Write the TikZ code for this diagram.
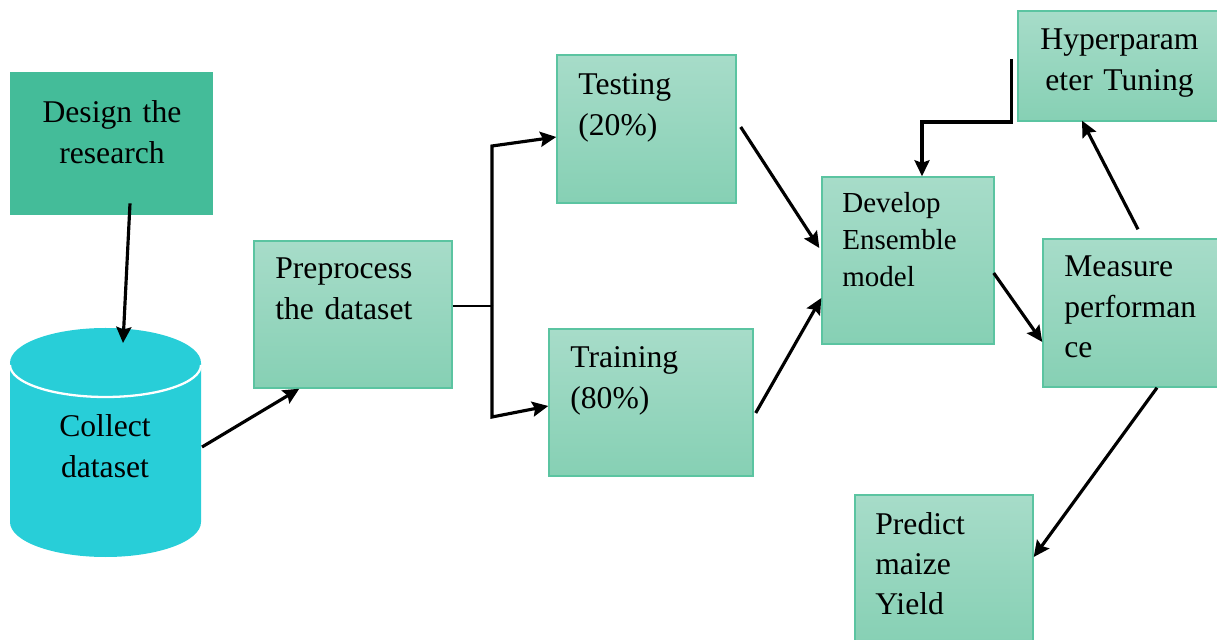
\documentclass[tikz,border=0pt]{standalone}
\usepackage{fontspec}
\setmainfont{Liberation Serif}
\usetikzlibrary{arrows.meta,calc}
\definecolor{boxtop}{HTML}{A7DCC9}
\definecolor{boxbot}{HTML}{86D0B4}
\definecolor{boxline}{HTML}{5BC4A1}
\definecolor{darkbox}{HTML}{44BC99}
\definecolor{cylcol}{HTML}{28CED8}
\tikzset{
	box/.style={draw=boxline, line width=0.8pt, top color=boxtop, bottom color=boxbot, inner sep=0pt},
	txt/.style={inner sep=0pt, text width=#1, align=left, font=\fontsize{18}{22.8}\selectfont},
	txt/.default=4cm,
	arrow/.style={line width=1.8pt, -{Stealth[length=0.32cm, width=0.3cm, inset=0.05cm]}}
}
\begin{document}
	\begin{tikzpicture}[scale=1]
		\useasboundingbox (0,0) rectangle (24.34,-12.8);
		\node[fill=darkbox, minimum width=4.06cm, minimum height=2.86cm] (design) at (2.23,-2.87) {};
		\node[txt, align=center, anchor=base] (designT) at (2.24,-2.46) {Design the\\research};
		\fill[cylcol] (0.2,-7.26) -- (0.2,-10.44) arc[start angle=180, end angle=360, x radius=1.91cm, y radius=0.7cm]
			-- (4.02,-7.26) arc[start angle=0, end angle=180, x radius=1.91cm, y radius=0.7cm] -- cycle;
		\draw[white, line width=1.3pt] (0.2,-7.30) arc[start angle=180, end angle=360, x radius=1.91cm, y radius=0.64cm];
		\coordinate (cyl) at (2.11,-8.85);
		\node[txt, align=center, anchor=base] (coll) at (2.1,-8.74) {Collect\\dataset};
		\node[box, minimum width=3.96cm, minimum height=2.94cm] (prep) at (7.06,-6.29) {};
		\node[txt, anchor=base west] (prepT) at (5.5,-5.58) {Preprocess\\the dataset};
		\node[box, minimum width=3.58cm, minimum height=2.96cm] (test) at (12.93,-2.58) {};
		\node[txt, anchor=base west] (testT) at (11.56,-1.9) {Testing\\(20\%)};
		\node[box, minimum width=4.08cm, minimum height=2.94cm] (train) at (13.02,-8.05) {};
		\node[txt, anchor=base west] (trainT) at (11.4,-7.36) {Training\\(80\%)};
		\node[box, minimum width=3.44cm, minimum height=3.34cm] (dev) at (18.16,-5.21) {};
		\node[txt, anchor=base west, font=\fontsize{16.5}{20.8}\selectfont] (devT) at (16.84,-4.26) {Develop\\Ensemble\\model};
		\node[box, minimum width=4.08cm, minimum height=2.2cm] (hyper) at (22.4,-1.32) {};
		\node[txt, align=center, anchor=base] (hyperT) at (22.39,-1.0) {Hyperparam\\eter Tuning};
		\node[box, minimum width=3.58cm, minimum height=2.96cm] (meas) at (22.65,-6.26) {};
		\node[txt, anchor=base west] (measT) at (21.28,-5.54) {Measure\\performan\\ce};
		\node[box, minimum width=3.56cm, minimum height=3cm] (pred) at (18.88,-11.4) {};
		\node[txt, anchor=base west] (predT) at (17.5,-10.68) {Predict\\maize\\Yield};
		\coordinate (fork) at (9.84,-6.12);
		\coordinate (forkT) at ($(fork)+(0,3.2)$);
		\coordinate (forkB) at ($(fork)+(0,-2.22)$);
		\draw[arrow] ($(design.south)+(0.37,0.24)$) -- ($(cyl)+(0.35,1.99)$);
		\draw[arrow] ($(cyl)+(1.93,-0.09)$) -- ($(prep.south west)+(0.92,0)$);
		\draw[line width=1.2pt] ($(prep.east)+(0,0.17)$) -- (fork);
		\draw[arrow] (fork) -- (forkT) -- ($(test.west)+(0,-0.16)$);
		\draw[arrow] (fork) -- (forkB) -- ($(train.west)+(0,-0.07)$);
		\draw[arrow] ($(test.east)+(0.08,0.04)$) -- ($(dev.west)+(-0.04,0.25)$);
		\draw[arrow] ($(train.east)+(0.04,-0.21)$) -- ($(dev.west)+(0,-0.75)$);
		\draw[arrow] ($(hyper.west)+(-0.12,0.14)$) -- ++(0,-1.26) -| ($(dev.north)+(0.28,0)$);
		\draw[arrow] ($(dev.east)+(-0.02,-0.25)$) -- ($(meas.west)+(0,-0.58)$);
		\draw[arrow] ($(meas.north)+(0.11,0.18)$) -- ($(hyper.south)+(-0.76,0.02)$);
		\draw[arrow] ($(meas.south)+(0.49,0)$) -- ($(pred.east)+(0,0.26)$);
	\end{tikzpicture}
\end{document}
